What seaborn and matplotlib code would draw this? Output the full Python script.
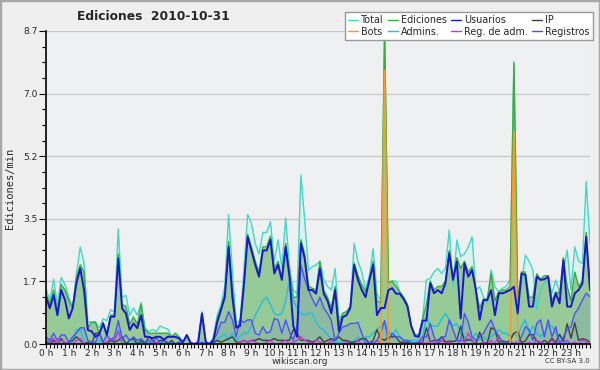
import numpy as np
import pandas as pd
import matplotlib
matplotlib.use("Agg")
import matplotlib.pyplot as plt
import seaborn as sns
from matplotlib.lines import Line2D
from matplotlib.patches import Rectangle
from matplotlib.ticker import FixedLocator, MultipleLocator

# ---- data: 10-minute samples, 2010-10-31 (edits per minute) ----
hour_labels = [f"{h} h" for h in range(24)]
ytick_values = [0.0, 1.74, 3.48, 5.22, 6.96, 8.7]
ytick_labels = ["0.0", "1.7", "3.5", "5.2", "7.0", "8.7"]

total = [
    1.55, 1.20, 1.80, 1.10, 1.85, 1.65,
    1.30, 1.00, 1.95, 2.70, 2.25, 0.60,
    0.62, 0.62, 0.45, 0.70, 0.65, 0.95,
    0.90, 3.20, 1.30, 1.35, 0.80, 1.00,
    0.80, 1.15, 0.45, 0.35, 0.40, 0.35,
    0.50, 0.45, 0.42, 0.20, 0.20, 0.20,
    0.05, 0.25, 0.03, 0.00, 0.05, 0.90,
    0.05, 0.00, 0.20, 0.80, 1.10, 1.60,
    3.60, 2.00, 0.60, 0.65, 2.00, 3.60,
    3.35, 2.80, 2.50, 3.10, 3.10, 3.40,
    2.30, 2.90, 2.10, 3.50, 2.15, 1.50,
    1.40, 4.70, 3.45, 2.05, 2.15, 2.20,
    2.30, 1.80, 1.60, 1.50, 2.10, 0.70,
    0.85, 0.90, 1.05, 2.80, 2.30, 2.00,
    1.50, 1.90, 2.65, 1.40, 1.20, 8.70,
    1.70, 1.75, 1.75, 1.45, 1.30, 1.10,
    0.50, 0.25, 0.25, 0.70, 1.78, 1.82,
    2.00, 2.10, 1.96, 2.10, 3.17, 1.59,
    2.89, 2.43, 2.50, 2.70, 2.98, 1.50,
    1.59, 1.30, 1.13, 2.06, 1.59, 1.45,
    1.55, 1.60, 1.80, 7.85, 1.30, 1.68,
    2.47, 2.30, 2.06, 0.94, 1.50, 1.70,
    1.87, 1.41, 1.78, 1.41, 2.00, 2.61,
    1.50, 2.70, 2.30, 2.24, 4.51, 2.80,
]
ediciones = [
    1.40, 1.10, 1.50, 0.90, 1.65, 1.50,
    1.20, 1.00, 1.85, 2.20, 2.00, 0.45,
    0.60, 0.60, 0.30, 0.60, 0.30, 0.80,
    0.80, 2.50, 1.10, 1.05, 0.55, 0.75,
    0.55, 1.10, 0.40, 0.30, 0.30, 0.30,
    0.30, 0.30, 0.30, 0.20, 0.30, 0.20,
    0.05, 0.25, 0.03, 0.00, 0.05, 0.85,
    0.05, 0.00, 0.15, 0.70, 1.00, 1.40,
    2.85, 1.50, 0.50, 0.55, 1.70, 3.05,
    2.70, 2.30, 2.00, 2.70, 2.70, 3.00,
    2.10, 2.30, 1.85, 2.80, 2.00, 1.30,
    1.30, 2.90, 2.50, 1.60, 1.55, 1.50,
    2.30, 1.50, 1.30, 1.00, 1.60, 0.55,
    0.85, 0.90, 1.05, 2.25, 1.90, 1.65,
    1.45, 1.80, 2.30, 1.20, 1.15, 8.70,
    1.70, 1.75, 1.60, 1.45, 1.30, 1.10,
    0.50, 0.25, 0.25, 0.70, 1.10, 1.75,
    1.50, 1.60, 1.60, 1.75, 2.60, 1.85,
    2.40, 2.10, 2.30, 2.00, 2.15, 1.50,
    1.00, 1.25, 1.25, 1.95, 1.20, 1.45,
    1.50, 1.50, 1.60, 7.80, 1.20, 2.00,
    2.00, 1.30, 1.30, 1.95, 1.80, 1.90,
    1.90, 1.20, 1.45, 1.40, 2.40, 1.60,
    1.20, 2.00, 1.60, 1.75, 3.10, 1.55,
]
usuarios = [
    1.31, 0.99, 1.36, 0.80, 1.50, 1.22,
    0.71, 0.99, 1.69, 2.10, 1.50, 0.39,
    0.35, 0.20, 0.28, 0.57, 0.25, 0.76,
    0.76, 2.38, 0.99, 0.85, 0.39, 0.57,
    0.44, 0.80, 0.20, 0.20, 0.16, 0.20,
    0.20, 0.12, 0.20, 0.20, 0.20, 0.15,
    0.05, 0.25, 0.03, 0.00, 0.05, 0.85,
    0.05, 0.00, 0.10, 0.60, 0.95, 1.30,
    2.70, 1.30, 0.45, 0.50, 1.60, 2.98,
    2.60, 2.20, 1.87, 2.60, 2.60, 2.90,
    1.96, 2.20, 1.78, 2.70, 1.87, 0.50,
    0.20, 2.80, 2.38, 1.50, 1.50, 1.40,
    2.10, 1.40, 1.20, 0.85, 1.50, 0.35,
    0.75, 0.80, 1.00, 2.20, 1.78, 1.50,
    1.30, 1.78, 2.20, 0.80, 1.00, 1.00,
    1.50, 1.55, 1.40, 1.40, 1.25, 1.05,
    0.50, 0.22, 0.20, 0.65, 0.65, 1.69,
    1.41, 1.50, 1.41, 1.69, 2.52, 1.78,
    2.29, 0.71, 2.24, 1.87, 2.06, 1.50,
    0.67, 1.22, 1.22, 1.50, 0.80, 1.41,
    1.41, 1.45, 1.50, 1.59, 0.85, 1.96,
    1.92, 1.04, 1.04, 1.87, 1.78, 1.80,
    1.87, 1.04, 1.41, 1.13, 2.33, 1.04,
    1.04, 1.41, 1.50, 1.68, 2.98, 1.50,
]
ip = [
    0.05, 0.00, 0.10, 0.00, 0.15, 0.00,
    0.05, 0.10, 0.20, 0.10, 0.00, 0.05,
    0.00, 0.30, 0.30, 0.05, 0.00, 0.10,
    0.05, 0.10, 0.20, 0.00, 0.10, 0.15,
    0.00, 0.10, 0.00, 0.20, 0.10, 0.00,
    0.10, 0.10, 0.00, 0.10, 0.00, 0.05,
    0.00, 0.00, 0.00, 0.00, 0.00, 0.00,
    0.00, 0.00, 0.05, 0.10, 0.05, 0.10,
    0.15, 0.20, 0.05, 0.05, 0.10, 0.05,
    0.10, 0.10, 0.15, 0.10, 0.10, 0.10,
    0.15, 0.10, 0.10, 0.10, 0.10, 0.40,
    0.30, 0.10, 0.10, 0.10, 0.05, 0.10,
    0.20, 0.05, 0.10, 0.15, 0.10, 0.20,
    0.10, 0.10, 0.05, 0.05, 0.10, 0.15,
    0.15, 0.02, 0.10, 0.40, 0.15, 0.10,
    0.20, 0.20, 0.20, 0.05, 0.05, 0.05,
    0.00, 0.03, 0.05, 0.05, 0.45, 0.06,
    0.10, 0.10, 0.20, 0.06, 0.08, 0.07,
    0.10, 0.50, 0.06, 0.13, 0.09, 0.00,
    0.33, 0.03, 0.03, 0.45, 0.40, 0.04,
    0.09, 0.05, 0.10, 0.30, 0.35, 0.04,
    0.08, 0.26, 0.26, 0.08, 0.02, 0.10,
    0.03, 0.16, 0.04, 0.27, 0.07, 0.56,
    0.16, 0.59, 0.10, 0.15, 0.12, 0.05,
]
bots = [0.0] * 89 + [7.6] + [0.0] * 33 + [5.9] + [0.0] * 20
admins = [
    0.05, 0.00, 0.10, 0.05, 0.00, 0.05,
    0.00, 0.05, 0.40, 0.40, 0.10, 0.00,
    0.00, 0.05, 0.10, 0.00, 0.05, 0.10,
    0.05, 0.40, 0.10, 0.05, 0.00, 0.05,
    0.00, 0.05, 0.00, 0.05, 0.10, 0.00,
    0.05, 0.00, 0.00, 0.05, 0.00, 0.00,
    0.00, 0.00, 0.00, 0.00, 0.00, 0.05,
    0.00, 0.00, 0.00, 0.10, 0.20, 0.30,
    0.10, 0.30, 0.10, 0.20, 0.30, 0.30,
    0.50, 0.80, 1.00, 1.20, 1.30, 1.10,
    0.85, 0.80, 0.85, 1.20, 1.78, 1.20,
    1.00, 0.85, 0.80, 0.85, 0.85, 0.60,
    0.45, 0.40, 0.25, 0.15, 0.05, 0.05,
    0.05, 0.10, 0.05, 0.10, 0.20, 0.10,
    0.20, 0.20, 0.30, 0.40, 0.50, 0.60,
    0.40, 0.20, 0.40, 0.20, 0.10, 0.10,
    0.10, 0.10, 0.10, 0.20, 0.76, 0.50,
    0.50, 0.50, 0.70, 0.85, 0.67, 0.50,
    0.57, 0.30, 0.20, 0.10, 0.10, 0.30,
    0.10, 0.20, 0.10, 0.20, 0.30, 0.40,
    0.30, 0.30, 0.20, 0.30, 0.20, 0.50,
    0.67, 0.30, 0.50, 0.30, 0.20, 0.30,
    0.50, 0.50, 0.30, 0.20, 0.10, 0.05,
    0.00, 0.00, 0.00, 0.00, 0.00, 0.00,
]
reg_adm = [
    0.10, 0.05, 0.15, 0.00, 0.10, 0.05,
    0.00, 0.00, 0.10, 0.15, 0.00, 0.00,
    0.00, 0.00, 0.00, 0.00, 0.05, 0.15,
    0.10, 0.35, 0.00, 0.00, 0.00, 0.00,
    0.00, 0.00, 0.00, 0.00, 0.00, 0.05,
    0.00, 0.00, 0.00, 0.00, 0.00, 0.00,
    0.00, 0.00, 0.00, 0.00, 0.00, 0.00,
    0.00, 0.00, 0.00, 0.00, 0.00, 0.00,
    0.00, 0.00, 0.00, 0.05, 0.10, 0.05,
    0.10, 0.05, 0.00, 0.00, 0.05, 0.10,
    0.00, 0.00, 0.05, 0.10, 0.00, 0.05,
    0.10, 0.20, 0.10, 0.05, 0.00, 0.10,
    0.05, 0.00, 0.00, 0.10, 0.00, 0.00,
    0.00, 0.05, 0.00, 0.00, 0.10, 0.00,
    0.00, 0.05, 0.00, 0.10, 0.00, 0.00,
    0.05, 0.00, 0.00, 0.00, 0.00, 0.00,
    0.00, 0.00, 0.00, 0.05, 0.00, 0.10,
    0.05, 0.00, 0.10, 0.00, 0.05, 0.00,
    0.00, 0.10, 0.05, 0.30, 0.10, 0.00,
    0.00, 0.05, 0.00, 0.10, 0.00, 0.25,
    0.00, 0.00, 0.05, 0.00, 0.10, 0.00,
    0.00, 0.05, 0.00, 0.10, 0.05, 0.00,
    0.00, 0.10, 0.00, 0.05, 0.00, 0.10,
    0.00, 0.05, 0.00, 0.10, 0.05, 0.00,
]
registros = [
    0.20, 0.10, 0.30, 0.10, 0.25, 0.25,
    0.05, 0.20, 0.30, 0.45, 0.45, 0.10,
    0.05, 0.05, 0.30, 0.05, 0.25, 0.10,
    0.20, 0.65, 0.15, 0.25, 0.10, 0.20,
    0.10, 0.15, 0.05, 0.10, 0.00, 0.20,
    0.00, 0.10, 0.05, 0.00, 0.00, 0.05,
    0.00, 0.00, 0.00, 0.00, 0.00, 0.05,
    0.00, 0.00, 0.10, 0.30, 0.60, 0.60,
    0.90, 0.67, 0.20, 0.67, 0.60, 0.67,
    0.67, 0.30, 0.25, 0.48, 0.30, 0.35,
    0.71, 0.67, 0.30, 0.67, 0.35, 0.10,
    0.50, 2.20, 1.80, 1.50, 1.25, 1.05,
    1.30, 1.00, 0.85, 0.65, 0.10, 0.30,
    0.48, 0.50, 0.57, 0.57, 0.60, 0.30,
    0.02, 0.05, 0.02, 0.10, 0.30, 0.65,
    0.10, 0.30, 0.20, 0.20, 0.10, 0.10,
    0.05, 0.00, 0.05, 0.20, 0.20, 0.57,
    0.20, 0.00, 0.20, 0.20, 0.67, 0.40,
    0.10, 0.10, 0.85, 0.60, 0.20, 0.10,
    0.20, 0.30, 0.50, 0.67, 0.40, 0.20,
    0.05, 0.00, 0.10, 0.00, 0.05, 0.20,
    0.48, 0.40, 0.10, 0.57, 0.67, 0.20,
    0.67, 0.20, 0.48, 0.00, 0.20, 0.40,
    0.48, 0.85, 1.00, 1.22, 1.41, 1.31,
]

# ---- styling ----
C_TOTAL, C_TOTAL_FILL = "#44d6c6", "#dcf1ec"
C_ED, C_ED_FILL = "#3aaa3a", "#96ca96"
C_US = "#1818cc"
C_IP = "#404040"
C_BOT = "#ff9922"
C_ADM = "#22bde0"
C_REGADM = "#cc33dd"
C_REG = "#4f4fff"

sns.set_theme(style="white")
plt.rcParams["font.family"] = ["DejaVu Sans"]

fig = plt.figure(figsize=(6, 3.7), dpi=100, facecolor="#efefef")
ax = fig.add_axes([46 / 600, 1 - 344 / 370, 544 / 600, 313 / 370])
ax.set_facecolor("#eef0f2")

t = np.arange(len(total)) / 6.0
df = pd.DataFrame({
    "t": t, "Total": total, "Ediciones": ediciones, "Usuarios": usuarios,
    "IP": ip, "Bots": bots, "Admins.": admins, "Reg. de adm.": reg_adm,
    "Registros": registros,
})

ax.fill_between(df["t"], df["Total"], color=C_TOTAL_FILL, lw=0, zorder=1)
ax.fill_between(df["t"], df["Ediciones"], color=C_ED_FILL, lw=0, zorder=2)
ax.fill_between(df["t"], df["Registros"], color=C_REG, alpha=0.12, lw=0, zorder=3)

series = [
    ("Total", C_TOTAL, 1.0), ("Ediciones", C_ED, 1.0),
    ("Admins.", C_ADM, 1.0), ("IP", C_IP, 1.0),
    ("Reg. de adm.", C_REGADM, 1.0), ("Registros", C_REG, 1.0),
    ("Bots", C_BOT, 1.2), ("Usuarios", C_US, 1.4),
]
for i, (col, colr, lw) in enumerate(series):
    sns.lineplot(data=df, x="t", y=col, color=colr, lw=lw, ax=ax,
                 legend=False, zorder=4 + i)

ax.set_xlim(0, t[-1])
ax.set_ylim(0, 8.7)
ax.xaxis.set_major_locator(FixedLocator(range(24)))
ax.xaxis.set_minor_locator(MultipleLocator(1 / 6))
ax.set_xticklabels(hour_labels)
ax.yaxis.set_major_locator(FixedLocator(ytick_values))
ax.yaxis.set_minor_locator(MultipleLocator(8.7 / 20))
ax.set_yticklabels(ytick_labels)
ax.tick_params(axis="x", which="both", direction="out", length=3, width=0.8,
               color="black", labelsize=6.5, pad=0.5, bottom=True)
ax.tick_params(axis="y", which="major", direction="out", length=5, width=0.8,
               color="black", labelsize=6.5, pad=1, left=True)
ax.tick_params(axis="y", which="minor", direction="out", length=3, width=0.8,
               color="black", left=True)
ax.set_xlabel("")
ax.set_ylabel("")
ax.set_axisbelow(True)
ax.yaxis.grid(True, which="major", color="#c8c8c8", lw=0.9)
ax.xaxis.grid(False)
for s in ["top", "right"]:
    ax.spines[s].set_visible(False)
for s in ["left", "bottom"]:
    ax.spines[s].set_color("black")
    ax.spines[s].set_linewidth(1.2)
    ax.spines[s].set_zorder(20)

fig.text(10 / 600, 1 - 188 / 370, "Ediciones/min", rotation=90, ha="center",
         va="center", fontsize=7.5, family=["DejaVu Sans Mono"])
fig.text(153 / 600, 1 - 16 / 370, "Ediciones  2010-10-31", ha="center",
         va="center", fontsize=8.8, weight="bold")
fig.text(300 / 600, 1 - 361 / 370, "wikiscan.org", ha="center", va="center",
         fontsize=6.5, color="#333333")
fig.text(590 / 600, 1 - 361 / 370, "CC BY-SA 3.0", ha="right", va="center",
         fontsize=5, color="#333333")

# legend (row-wise order Total, Ediciones, Usuarios, IP / Bots, Admins., Reg. de adm., Registros)
order = [("Total", C_TOTAL), ("Bots", C_BOT), ("Ediciones", C_ED),
         ("Admins.", C_ADM), ("Usuarios", C_US), ("Reg. de adm.", C_REGADM),
         ("IP", C_IP), ("Registros", C_REG)]
handles = [Line2D([], [], color=c, lw=1.0) for _, c in order]
leg = fig.legend(handles, [n for n, _ in order], ncol=4, loc="upper right",
                 bbox_to_anchor=(593 / 600, 1 - 12 / 370), fontsize=6.9,
                 frameon=True, fancybox=False, framealpha=1, edgecolor="#999999",
                 handlelength=1.0, handletextpad=0.35, columnspacing=0.45,
                 borderpad=0.35, labelspacing=0.12, borderaxespad=0)
leg.get_frame().set_linewidth(1.0)
leg.set_zorder(30)

fig.patches.append(Rectangle((0, 0), 1, 1, transform=fig.transFigure,
                             fill=False, edgecolor="#a8a8a8", lw=2.5))

fig.savefig("out.png", dpi=100, facecolor=fig.get_facecolor())
